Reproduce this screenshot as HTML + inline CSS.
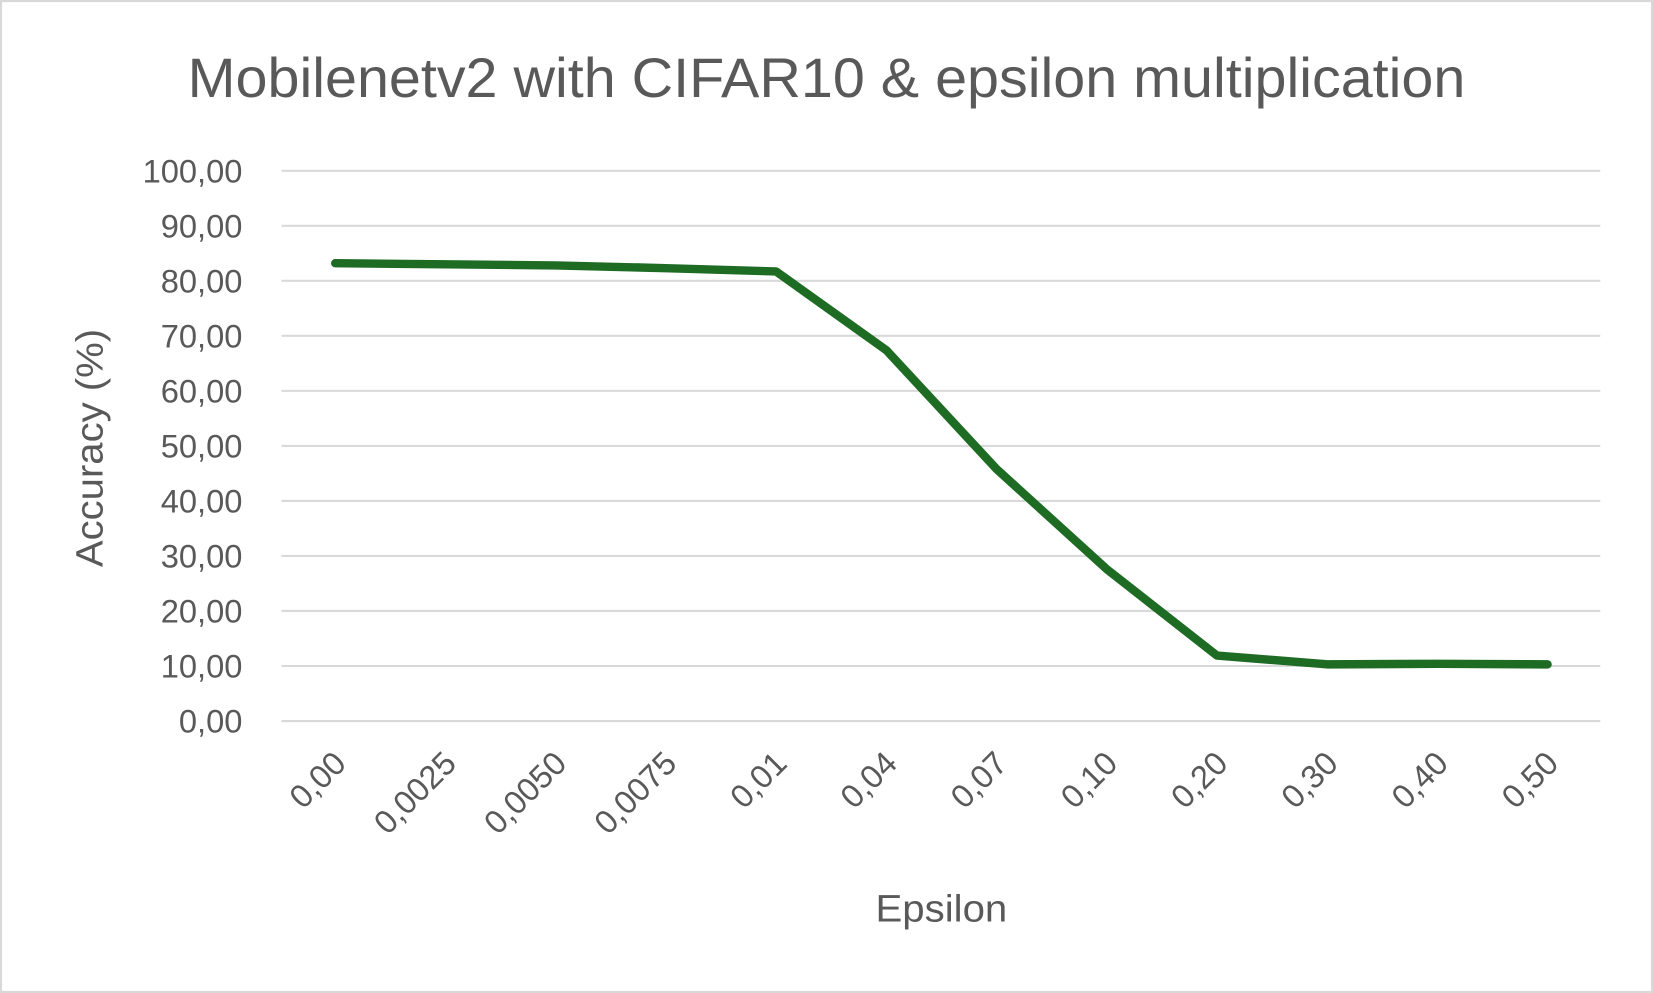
<!DOCTYPE html>
<html><head><meta charset="utf-8"><style>
html,body{margin:0;padding:0;background:#fff;}
svg{display:block;font-family:"Liberation Sans",sans-serif;}
</style></head><body>
<svg id="chart" width="1653" height="993" viewBox="0 0 1568 942" preserveAspectRatio="none">
<rect x="1" y="1" width="1566" height="940" fill="#fff" stroke="#d9d9d9" stroke-width="2"/>
<text x="784" y="92" text-anchor="middle" font-size="53" textLength="1212" lengthAdjust="spacingAndGlyphs" fill="#595959">Mobilenetv2 with CIFAR10 &amp; epsilon multiplication</text>
<g id="grid"></g><g id="yticks"></g><g id="xticks"></g><g id="series"></g>
<text transform="translate(97,425) rotate(-90)" text-anchor="middle" font-size="36" textLength="226" lengthAdjust="spacingAndGlyphs" fill="#595959">Accuracy (%)</text>
<text x="893" y="874" text-anchor="middle" font-size="36" textLength="125" lengthAdjust="spacingAndGlyphs" fill="#595959">Epsilon</text>
</svg>
<script>
const categories=["0,00","0,0025","0,0050","0,0075","0,01","0,04","0,07","0,10","0,20","0,30","0,40","0,50"];
const accuracy=[83.2,83.0,82.8,82.3,81.7,67.4,45.8,27.6,11.9,10.3,10.4,10.3];
const yTicks=[0,10,20,30,40,50,60,70,80,90,100];
const NS="http://www.w3.org/2000/svg";
const x0=318,x1=1468,yb=684,yt=162;
const xs=i=>x0+(x1-x0)*i/(categories.length-1);
const ys=v=>yb-(yb-yt)*v/100;
const mk=(t,a,p)=>{const e=document.createElementNS(NS,t);for(const k in a)e.setAttribute(k,a[k]);p.appendChild(e);return e;};
const g=document.getElementById('grid'),yt_=document.getElementById('yticks'),xt=document.getElementById('xticks'),s=document.getElementById('series');
yTicks.forEach(v=>{
 const l=mk('line',{x1:267,x2:1518,y1:ys(v),y2:ys(v),stroke:'#d9d9d9','stroke-width':2},g);
 
 
 const t=mk('text',{x:230,y:ys(v)+11,'text-anchor':'end','font-size':31,fill:'#595959'},yt_);
 t.textContent=v.toFixed(2).replace('.',',');
 
 
});
categories.forEach((c,i)=>{
 const x=xs(i)+12,y=726;
 const t=mk('text',{x:x,y:y,'text-anchor':'end','font-size':31,fill:'#595959',transform:`rotate(-45 ${x} ${y})`},xt);
 t.textContent=c;
 
 
});
const p=mk('polyline',{points:accuracy.map((v,i)=>xs(i)+','+ys(v)).join(' '),fill:'none',stroke:'#1e6b24','stroke-width':8,'stroke-linejoin':'round','stroke-linecap':'round'},s);


</script>
</body></html>
